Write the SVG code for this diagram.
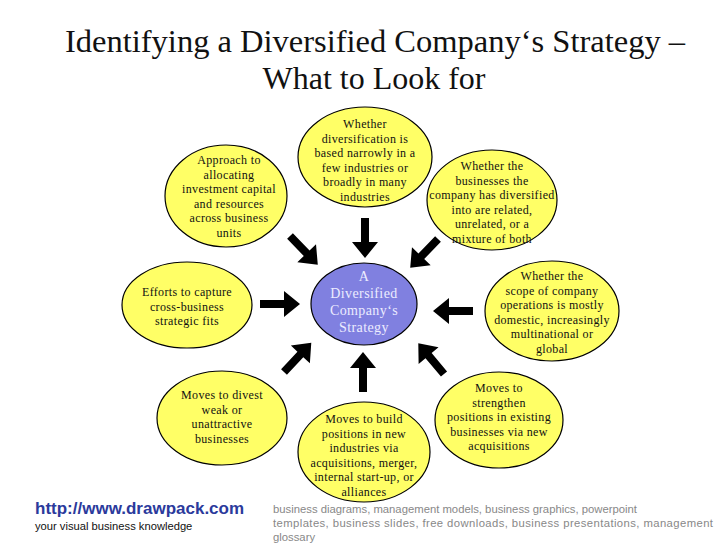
<svg xmlns="http://www.w3.org/2000/svg" width="728" height="546" viewBox="0 0 728 546">
<style>
.bub{fill:#ffff66;stroke:#000;stroke-width:1.2}
.ctr{fill:#8080e0;stroke:#000;stroke-width:1.2}
.t{font-family:"Liberation Serif","Times New Roman",serif;font-size:12px;fill:#111;text-anchor:middle;letter-spacing:0.35px}
.ct{font-family:"Liberation Serif","Times New Roman",serif;font-size:14px;fill:#ececff;text-anchor:middle;letter-spacing:0.4px}
.title{font-family:"Liberation Serif","Times New Roman",serif;font-size:32px;fill:#111;text-anchor:middle}
.arr{fill:#000}
.url{font-family:"Liberation Sans",Arial,sans-serif;font-size:17px;font-weight:bold;fill:#2b3a9c}
.tag{font-family:"Liberation Sans",Arial,sans-serif;font-size:11.2px;fill:#111}
.kw{font-family:"Liberation Sans",Arial,sans-serif;font-size:11.3px;fill:#888}
</style>
<defs>
<path id="arrow" d="M0,-4 L24,-4 L24,-13 L40,0 L24,13 L24,4 L0,4 Z"/>
</defs>
<rect width="728" height="546" fill="#fff"/>
<g id="title">
<text class="title" x="375" y="52" textLength="620" lengthAdjust="spacingAndGlyphs">Identifying a Diversified Company‘s Strategy –</text>
<text class="title" x="374" y="89">What to Look for</text>
</g>
<g id="connectors" class="arr">
<use href="#arrow" transform="translate(365,218) rotate(90)"/>
<use href="#arrow" transform="translate(363,392) rotate(-90)"/>
<use href="#arrow" transform="translate(260,304)"/>
<use href="#arrow" transform="translate(473,311) rotate(180)"/>
<use href="#arrow" transform="translate(290,236) rotate(46)"/>
<use href="#arrow" transform="translate(438,239) rotate(134)"/>
<use href="#arrow" transform="translate(284,372) rotate(-47)"/>
<use href="#arrow" transform="translate(444,374) rotate(-130)"/>
</g>
<g id="center">
<ellipse class="ctr" cx="364" cy="304" rx="53" ry="41"/>
<text class="ct" x="364" y="281">A</text>
<text class="ct" x="364" y="298">Diversified</text>
<text class="ct" x="364" y="315">Company‘s</text>
<text class="ct" x="364" y="332">Strategy</text>
</g>
<g id="n-top">
<ellipse class="bub" cx="365" cy="157" rx="67" ry="50"/>
<text class="t" x="365" y="128">Whether</text>
<text class="t" x="365" y="142.5">diversification is</text>
<text class="t" x="365" y="157">based narrowly in a</text>
<text class="t" x="365" y="171.5">few industries or</text>
<text class="t" x="365" y="186">broadly in many</text>
<text class="t" x="365" y="200.5">industries</text>
</g>
<g id="n-upper-left">
<ellipse class="bub" cx="226" cy="196" rx="61" ry="51"/>
<text class="t" x="229" y="164">Approach to</text>
<text class="t" x="229" y="178.5">allocating</text>
<text class="t" x="229" y="193">investment capital</text>
<text class="t" x="229" y="207.5">and resources</text>
<text class="t" x="229" y="222">across business</text>
<text class="t" x="229" y="236.5">units</text>
</g>
<g id="n-upper-right">
<ellipse class="bub" cx="492" cy="200" rx="65" ry="50"/>
<text class="t" x="492" y="170">Whether the</text>
<text class="t" x="492" y="184.5">businesses the</text>
<text class="t" x="492" y="199">company has diversified</text>
<text class="t" x="492" y="213.5">into are related,</text>
<text class="t" x="492" y="228">unrelated, or a</text>
<text class="t" x="492" y="242.5">mixture of both</text>
</g>
<g id="n-left">
<ellipse class="bub" cx="187" cy="305" rx="65" ry="43"/>
<text class="t" x="187" y="296">Efforts to capture</text>
<text class="t" x="187" y="310.5">cross-business</text>
<text class="t" x="187" y="325">strategic fits</text>
</g>
<g id="n-right">
<ellipse class="bub" cx="552" cy="311" rx="67" ry="50"/>
<text class="t" x="552" y="280">Whether the</text>
<text class="t" x="552" y="294.5">scope of company</text>
<text class="t" x="552" y="309">operations is mostly</text>
<text class="t" x="552" y="323.5">domestic, increasingly</text>
<text class="t" x="552" y="338">multinational or</text>
<text class="t" x="552" y="352.5">global</text>
</g>
<g id="n-lower-left">
<ellipse class="bub" cx="222" cy="418" rx="65" ry="47"/>
<text class="t" x="222" y="399">Moves to divest</text>
<text class="t" x="222" y="413.5">weak or</text>
<text class="t" x="222" y="428">unattractive</text>
<text class="t" x="222" y="442.5">businesses</text>
</g>
<g id="n-bottom">
<ellipse class="bub" cx="364" cy="452" rx="66" ry="50"/>
<text class="t" x="364" y="423">Moves to build</text>
<text class="t" x="364" y="437.5">positions in new</text>
<text class="t" x="364" y="452">industries via</text>
<text class="t" x="364" y="466.5">acquisitions, merger,</text>
<text class="t" x="364" y="481">internal start-up, or</text>
<text class="t" x="364" y="495.5">alliances</text>
</g>
<g id="n-lower-right">
<ellipse class="bub" cx="499" cy="420" rx="64" ry="48"/>
<text class="t" x="499" y="392">Moves to</text>
<text class="t" x="499" y="406.5">strengthen</text>
<text class="t" x="499" y="421">positions in existing</text>
<text class="t" x="499" y="435.5">businesses via new</text>
<text class="t" x="499" y="450">acquisitions</text>
</g>
<g id="footer">
<text class="url" x="35" y="514">http://www.drawpack.com</text>
<text class="tag" x="35" y="530">your visual business knowledge</text>
<text class="kw" x="273" y="513" textLength="364">business diagrams, management models, business graphics, powerpoint</text>
<text class="kw" x="273" y="527" textLength="440">templates, business slides, free downloads, business presentations, management</text>
<text class="kw" x="273" y="541">glossary</text>
</g>
</svg>
